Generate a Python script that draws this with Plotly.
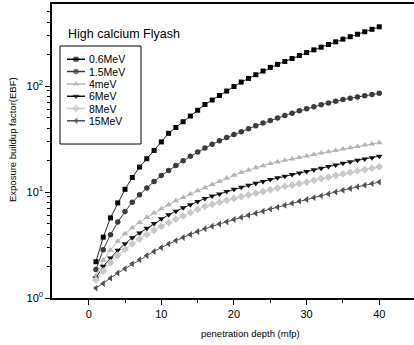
import plotly.graph_objects as go

# penetration depth (mfp)
depth = list(range(1, 41))

ebf_06 = [2.2, 3.75, 5.7, 7.9, 10.6, 13.7, 17.2, 20.6, 24.7, 29.7,
          35.8, 40.6, 46.0, 52.1, 59.1, 67.0, 73.8, 81.4, 89.7, 98.9,
          109.0, 118.0, 127.8, 138.5, 150.0, 160.0, 170.6, 182.0, 194.0, 207.0,
          219.5, 232.5, 246.5, 261.3, 277.0, 292.0, 308.0, 325.0, 343.0, 362.0]
ebf_15 = [1.86, 2.86, 3.95, 5.2, 6.55, 8.0, 9.4, 10.9, 12.6, 14.3,
          16.0, 17.8, 19.7, 21.7, 23.8, 26.0, 28.2, 30.4, 32.6, 34.9,
          37.1, 39.6, 42.1, 44.7, 47.3, 50.0, 52.7, 55.5, 58.3, 61.2,
          63.9, 66.6, 69.3, 72.0, 74.6, 76.8, 78.9, 81.0, 83.1, 85.3]
ebf_4 = [1.62, 2.27, 2.82, 3.43, 4.04, 4.6, 5.17, 5.75, 6.35, 6.96,
         7.6, 8.25, 8.9, 9.6, 10.3, 11.0, 11.8, 12.6, 13.5, 14.4,
         15.3, 16.1, 16.9, 17.7, 18.6, 19.2, 19.9, 20.5, 21.2, 21.9,
         22.6, 23.3, 24.0, 24.7, 25.5, 26.2, 26.9, 27.7, 28.4, 29.2]
ebf_6 = [1.54, 1.99, 2.38, 2.82, 3.25, 3.7, 4.1, 4.55, 5.05, 5.6,
         6.1, 6.6, 7.1, 7.6, 8.15, 8.7, 9.15, 9.6, 10.1, 10.6,
         11.1, 11.6, 12.1, 12.6, 13.1, 13.6, 14.1, 14.6, 15.1, 15.6,
         16.2, 16.8, 17.4, 18.0, 18.7, 19.3, 19.9, 20.5, 21.1, 21.8]
ebf_8 = [1.48, 1.79, 2.15, 2.53, 2.88, 3.25, 3.6, 3.97, 4.35, 4.75,
         5.15, 5.55, 5.95, 6.4, 6.85, 7.3, 7.65, 8.0, 8.35, 8.7,
         9.05, 9.4, 9.75, 10.1, 10.5, 10.9, 11.3, 11.6, 12.0, 12.4,
         12.9, 13.4, 13.8, 14.3, 14.8, 15.3, 15.8, 16.3, 16.8, 17.3]
ebf_15mev = [1.24, 1.37, 1.54, 1.72, 1.89, 2.1, 2.3, 2.52, 2.75, 3.0,
             3.24, 3.48, 3.72, 3.98, 4.24, 4.5, 4.75, 5.0, 5.25, 5.5,
             5.77, 6.03, 6.3, 6.6, 6.9, 7.2, 7.5, 7.85, 8.2, 8.5,
             8.85, 9.2, 9.6, 10.0, 10.4, 10.8, 11.2, 11.6, 12.0, 12.4]

series_names = ["0.6MeV", "1.5MeV", "4meV", "6MeV", "8MeV", "15MeV"]
series_values = [ebf_06, ebf_15, ebf_4, ebf_6, ebf_8, ebf_15mev]
series_colors = ["#000000", "#3c3c3c", "#b4b4b4", "#111111", "#c8c8c8", "#505050"]
series_symbols = ["square", "circle", "triangle-up", "triangle-down", "diamond", "triangle-left"]
series_sizes = [5, 5.5, 6, 6, 6, 6]

W, H = 414, 345
ML, MR, MT, MB = 52, 0, 4, 47
PW, PH = W - ML - MR, H - MT - MB
FONT = "Liberation Sans, Arial, sans-serif"


def px_x(p):
    # page pixel -> paper fraction (paper spans the plot area)
    return (p - ML) / PW


def px_y(p):
    return (H - MB - p) / PH


fig = go.Figure()

for name, vals, col, sym, sz in zip(series_names, series_values, series_colors,
                                     series_symbols, series_sizes):
    fig.add_trace(go.Scatter(
        x=depth, y=vals, name=name, mode="lines+markers",
        line=dict(color="#222222" if col in ("#000000", "#111111") else col, width=1),
        marker=dict(symbol=sym, size=sz, color=col, line=dict(width=0)),
        showlegend=False, xaxis="x", yaxis="y",
    ))

# Legend drawn on its own small axis: one short line with a centre marker per entry
n = len(series_names)
leg_top, leg_step = 59.3, 12.3
annotations = []
for i, (name, col, sym, sz) in enumerate(zip(series_names, series_colors,
                                              series_symbols, series_sizes)):
    yy = n - 1 - i
    fig.add_trace(go.Scatter(
        x=[0, 0.5, 1], y=[yy, yy, yy], mode="lines+markers",
        line=dict(color=col, width=1.5),
        marker=dict(symbol=sym, size=[0, sz, 0], color=col, line=dict(width=0)),
        showlegend=False, hoverinfo="skip", xaxis="x2", yaxis="y2",
    ))
    annotations.append(dict(
        text=name, xref="paper", yref="paper",
        x=px_x(87), y=px_y(leg_top + i * leg_step), xanchor="left", yanchor="middle",
        showarrow=False, font=dict(family=FONT, size=10.5, color="#000000")))

annotations.append(dict(
    text="High calcium Flyash", xref="paper", yref="paper",
    x=px_x(66), y=px_y(34), xanchor="left", yanchor="middle",
    showarrow=False, font=dict(family=FONT, size=12.5, color="#000000")))
annotations.append(dict(
    text="penetration depth (mfp)", xref="paper", yref="paper",
    x=px_x(250), y=px_y(333.5), xanchor="center", yanchor="middle",
    showarrow=False, font=dict(family=FONT, size=9.5, color="#000000")))
annotations.append(dict(
    text="Exposure buildup factor(EBF)", xref="paper", yref="paper",
    x=px_x(12), y=px_y(140), xanchor="center", yanchor="middle", textangle=-90,
    showarrow=False, font=dict(family=FONT, size=9.5, color="#000000")))

y_legend_span = (leg_top - leg_step / 2, leg_top + (n - 0.5) * leg_step)

fig.update_layout(
    width=W, height=H,
    margin=dict(l=ML, r=MR, t=MT, b=MB),
    paper_bgcolor="white", plot_bgcolor="white",
    font=dict(family=FONT, size=11, color="#000000"),
    xaxis=dict(
        range=[-5.05, 44.78], showgrid=False, zeroline=False,
        showline=True, linecolor="#000000", linewidth=1.5, mirror=True,
        ticks="outside", ticklen=5, tickwidth=1, tickcolor="#000000",
        tickvals=[0, 10, 20, 30, 40],
        minor=dict(ticks="outside", ticklen=3, tickvals=[5, 15, 25, 35], tickcolor="#000000"),
        tickfont=dict(size=11),
    ),
    yaxis=dict(
        type="log", range=[0, 2.774], showgrid=False, zeroline=False,
        showline=True, linecolor="#000000", linewidth=1.5, mirror=False,
        ticks="outside", ticklen=5, tickwidth=1, tickcolor="#000000",
        tickvals=[1, 10, 100],
        ticktext=["10<sup>0</sup>", "10<sup>1</sup>", "10<sup>2</sup>"],
        minor=dict(ticks="outside", ticklen=3, tickcolor="#000000",
                   tickvals=[2, 3, 4, 5, 6, 7, 8, 9, 20, 30, 40, 50, 60, 70, 80, 90,
                             200, 300, 400, 500]),
        tickfont=dict(size=11),
    ),
    xaxis2=dict(domain=[px_x(67), px_x(85)], range=[0, 1], visible=False, fixedrange=True,
                anchor="y2", showline=False),
    yaxis2=dict(domain=[px_y(y_legend_span[1]), px_y(y_legend_span[0])],
                range=[-0.5, n - 0.5], visible=False, fixedrange=True, anchor="x2",
                showline=False),
    shapes=[dict(type="rect", xref="paper", yref="paper",
                 x0=px_x(60), x1=px_x(141), y0=px_y(144), y1=px_y(46),
                 line=dict(color="#000000", width=1), fillcolor="rgba(0,0,0,0)",
                 layer="below")],
    annotations=annotations,
)

fig.write_html("out.html", config={"displayModeBar": False})
